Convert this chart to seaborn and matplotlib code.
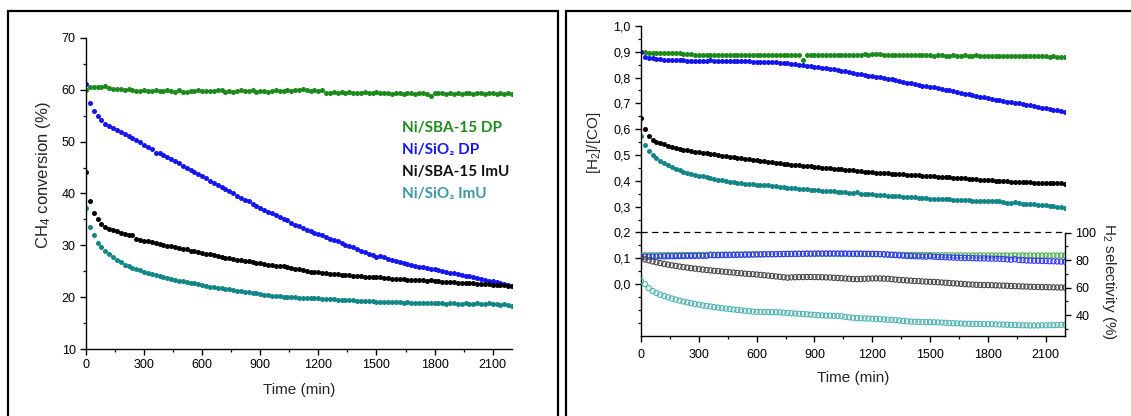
import numpy as np
import pandas as pd
import matplotlib
matplotlib.use("Agg")
import matplotlib.pyplot as plt
import seaborn as sns
from matplotlib.ticker import MultipleLocator, FixedLocator, FuncFormatter
from matplotlib.patches import Rectangle

# ---------------- data ----------------
time_min = np.arange(0, 2201, 20)  # sampling grid, 20 min

conv_sba_dp = [
    60.0, 60.5, 60.5, 60.6, 60.5, 60.8, 60.3, 60.2, 60.1, 60.1,
    60.0, 60.1, 60.0, 59.8, 59.7, 59.9, 59.8, 59.7, 59.9, 59.8,
    59.7, 59.9, 59.8, 59.6, 60.0, 59.5, 59.6, 59.8, 59.7, 59.9,
    59.8, 59.7, 59.8, 59.7, 59.9, 60.0, 59.6, 59.8, 59.5, 59.7,
    59.9, 59.7, 59.8, 59.9, 59.6, 59.8, 59.7, 59.6, 59.8, 59.9,
    59.8, 59.7, 59.9, 59.8, 59.9, 60.0, 60.2, 59.9, 59.8, 59.9,
    59.7, 59.9, 59.3, 59.4, 59.5, 59.4, 59.5, 59.4, 59.5, 59.3,
    59.4, 59.3, 59.5, 59.4, 59.3, 59.5, 59.4, 59.3, 59.4, 59.2,
    59.3, 59.4, 59.2, 59.3, 59.3, 59.2, 59.3, 59.4, 59.2, 58.9,
    59.4, 59.3, 59.3, 59.2, 59.4, 59.2, 59.3, 59.1, 59.3, 59.4,
    59.2, 59.3, 59.4, 59.2, 59.3, 59.4, 59.2, 59.3, 59.2, 59.3,
    59.2]
conv_sio2_dp = [
    61.2, 57.5, 56.0, 55.0, 54.2, 53.5, 53.1, 52.6, 52.3, 51.9,
    51.5, 51.1, 50.7, 50.3, 49.9, 49.4, 49.0, 48.6, 47.8, 47.8,
    47.5, 47.0, 46.6, 46.2, 45.8, 45.3, 44.9, 44.5, 44.1, 43.7,
    43.3, 42.9, 42.5, 42.1, 41.7, 41.2, 40.8, 40.4, 40.0, 39.6,
    39.2, 38.8, 38.5, 38.0, 37.6, 37.2, 36.9, 36.5, 36.2, 35.8,
    35.5, 35.1, 34.8, 34.4, 34.0, 33.7, 33.4, 33.0, 32.7, 32.4,
    32.2, 31.9, 31.6, 31.3, 31.0, 30.8, 30.4, 30.1, 29.8, 29.6,
    29.3, 29.0, 28.7, 28.4, 28.1, 27.8, 28.0, 27.7, 27.4, 27.2,
    26.9, 26.8, 26.6, 26.4, 26.3, 26.1, 25.9, 25.8, 25.6, 25.5,
    25.4, 25.2, 25.0, 24.9, 24.7, 24.6, 24.4, 24.3, 24.1, 24.0,
    23.9, 23.7, 23.6, 23.4, 23.2, 23.1, 22.9, 22.7, 22.5, 22.4,
    22.2]
conv_sba_imu = [
    44.1, 38.5, 36.2, 35.0, 34.1, 33.6, 33.2, 32.9, 32.7, 32.4,
    32.2, 32.0, 31.9, 31.2, 31.1, 30.9, 30.8, 30.6, 30.5, 30.3,
    30.1, 29.9, 29.8, 29.6, 29.5, 29.3, 29.2, 29.0, 28.9, 28.7,
    28.5, 28.4, 28.3, 28.1, 27.9, 27.8, 27.6, 27.5, 27.4, 27.2,
    27.1, 27.0, 26.9, 26.8, 26.6, 26.5, 26.4, 26.3, 26.2, 26.1,
    26.0, 26.0, 25.8, 25.6, 25.5, 25.5, 25.2, 25.0, 24.9, 24.9,
    24.8, 24.7, 24.6, 24.5, 24.4, 24.4, 24.3, 24.3, 24.2, 24.1,
    24.0, 24.0, 23.9, 23.9, 23.8, 23.8, 23.8, 23.7, 23.7, 23.6,
    23.6, 23.5, 23.5, 23.4, 23.4, 23.4, 23.3, 23.3, 23.2, 23.3,
    23.2, 23.1, 23.0, 23.0, 22.9, 22.9, 22.8, 22.8, 22.7, 22.7,
    22.7, 22.6, 22.6, 22.5, 22.5, 22.4, 22.4, 22.3, 22.3, 22.2,
    22.2]
conv_sio2_imu = [
    37.2, 33.5, 32.0, 30.5, 29.6, 28.9, 28.3, 27.7, 27.2, 26.7,
    26.3, 26.0, 25.7, 25.4, 25.2, 24.9, 24.7, 24.5, 24.2, 24.0,
    23.9, 23.7, 23.5, 23.4, 23.2, 23.1, 22.9, 22.8, 22.7, 22.6,
    22.4, 22.2, 22.0, 21.9, 21.8, 21.7, 21.6, 21.5, 21.3, 21.2,
    21.1, 21.0, 21.0, 20.9, 20.8, 20.6, 20.5, 20.4, 20.3, 20.3,
    20.2, 20.1, 20.1, 20.0, 20.0, 19.9, 19.9, 19.9, 19.8, 19.8,
    19.8, 19.7, 19.7, 19.6, 19.6, 19.5, 19.5, 19.4, 19.4, 19.4,
    19.3, 19.3, 19.2, 19.2, 19.2, 19.1, 19.1, 19.0, 19.1, 19.0,
    19.0, 19.0, 18.9, 19.0, 18.9, 18.9, 18.9, 18.8, 18.9, 18.8,
    18.8, 18.8, 18.8, 18.7, 18.8, 18.8, 18.7, 18.7, 18.8, 18.7,
    18.7, 18.8, 18.7, 18.7, 18.8, 18.7, 18.6, 18.5, 18.6, 18.5,
    18.3]

ratio_sba_dp = [
    0.900, 0.898, 0.897, 0.897, 0.896, 0.896, 0.895, 0.895, 0.894, 0.894,
    0.894, 0.893, 0.893, 0.890, 0.889, 0.888, 0.889, 0.887, 0.887, 0.888,
    0.887, 0.888, 0.887, 0.888, 0.887, 0.888, 0.888, 0.887, 0.888, 0.887,
    0.888, 0.887, 0.888, 0.889, 0.888, 0.889, 0.888, 0.889, 0.888, 0.888,
    0.887, 0.888, 0.870, 0.886, 0.888, 0.887, 0.886, 0.887, 0.886, 0.887,
    0.886, 0.887, 0.886, 0.887, 0.886, 0.888, 0.889, 0.888, 0.890, 0.889,
    0.890, 0.890, 0.891, 0.889, 0.889, 0.888, 0.888, 0.887, 0.887, 0.887,
    0.887, 0.886, 0.887, 0.887, 0.886, 0.886, 0.885, 0.886, 0.886, 0.885,
    0.885, 0.886, 0.885, 0.885, 0.886, 0.885, 0.885, 0.886, 0.885, 0.885,
    0.884, 0.884, 0.885, 0.884, 0.883, 0.884, 0.883, 0.884, 0.883, 0.883,
    0.882, 0.883, 0.882, 0.882, 0.883, 0.882, 0.881, 0.882, 0.881, 0.881,
    0.881]
ratio_sio2_dp = [
    0.900, 0.880, 0.877, 0.875, 0.873, 0.872, 0.870, 0.869, 0.868, 0.868,
    0.867, 0.867, 0.866, 0.866, 0.865, 0.865, 0.866, 0.865, 0.867, 0.866,
    0.865, 0.866, 0.865, 0.865, 0.864, 0.864, 0.864, 0.863, 0.863, 0.862,
    0.862, 0.862, 0.861, 0.860, 0.860, 0.859, 0.858, 0.857, 0.856, 0.854,
    0.852, 0.850, 0.848, 0.846, 0.844, 0.842, 0.840, 0.838, 0.836, 0.834,
    0.832, 0.830, 0.827, 0.824, 0.821, 0.818, 0.815, 0.813, 0.810, 0.807,
    0.805, 0.803, 0.801, 0.799, 0.796, 0.793, 0.790, 0.787, 0.784, 0.781,
    0.778, 0.775, 0.772, 0.769, 0.766, 0.764, 0.762, 0.758, 0.755, 0.752,
    0.750, 0.747, 0.744, 0.741, 0.738, 0.735, 0.732, 0.729, 0.726, 0.723,
    0.720, 0.717, 0.714, 0.712, 0.709, 0.707, 0.705, 0.702, 0.700, 0.697,
    0.695, 0.692, 0.690, 0.687, 0.684, 0.682, 0.679, 0.676, 0.673, 0.670,
    0.668]
ratio_sba_imu = [
    0.645, 0.600, 0.575, 0.560, 0.552, 0.546, 0.541, 0.536, 0.532, 0.528,
    0.524, 0.521, 0.518, 0.515, 0.513, 0.510, 0.508, 0.506, 0.504, 0.502,
    0.500, 0.498, 0.496, 0.494, 0.492, 0.490, 0.488, 0.486, 0.484, 0.482,
    0.480, 0.478, 0.476, 0.474, 0.472, 0.470, 0.468, 0.467, 0.465, 0.463,
    0.462, 0.460, 0.459, 0.457, 0.456, 0.454, 0.453, 0.451, 0.450, 0.448,
    0.447, 0.446, 0.444, 0.443, 0.441, 0.440, 0.438, 0.437, 0.435, 0.434,
    0.433, 0.432, 0.431, 0.430, 0.429, 0.428, 0.427, 0.426, 0.425, 0.424,
    0.423, 0.422, 0.421, 0.420, 0.419, 0.418, 0.417, 0.416, 0.415, 0.414,
    0.413, 0.412, 0.411, 0.410, 0.409, 0.408, 0.407, 0.406, 0.405, 0.404,
    0.403, 0.402, 0.401, 0.400, 0.399, 0.398, 0.397, 0.396, 0.396, 0.395,
    0.394, 0.394, 0.393, 0.393, 0.392, 0.392, 0.391, 0.391, 0.390, 0.390,
    0.389]
ratio_sio2_imu = [
    0.575, 0.540, 0.515, 0.500, 0.487, 0.477, 0.468, 0.460, 0.453, 0.447,
    0.441, 0.436, 0.432, 0.428, 0.424, 0.420, 0.417, 0.414, 0.411, 0.408,
    0.405, 0.402, 0.399, 0.397, 0.395, 0.393, 0.391, 0.389, 0.387, 0.386,
    0.385, 0.384, 0.383, 0.382, 0.380, 0.379, 0.377, 0.376, 0.374, 0.372,
    0.371, 0.370, 0.369, 0.367, 0.366, 0.364, 0.363, 0.362, 0.361, 0.360,
    0.359, 0.358, 0.357, 0.356, 0.354, 0.352, 0.355, 0.350, 0.349, 0.348,
    0.347, 0.346, 0.345, 0.344, 0.343, 0.342, 0.341, 0.340, 0.339, 0.338,
    0.337, 0.336, 0.335, 0.334, 0.333, 0.331, 0.330, 0.330, 0.329, 0.328,
    0.328, 0.327, 0.326, 0.325, 0.324, 0.324, 0.323, 0.323, 0.322, 0.323,
    0.322, 0.323, 0.321, 0.320, 0.318, 0.315, 0.313, 0.316, 0.314, 0.312,
    0.310, 0.309, 0.311, 0.307, 0.305, 0.306, 0.303, 0.301, 0.299, 0.297,
    0.295]

sel_sba_dp = [
    83.5, 83.6, 83.5, 83.6, 83.5, 83.6, 83.6, 83.7, 83.6, 83.7,
    83.7, 83.8, 83.7, 83.8, 83.8, 83.9, 83.8, 83.9, 84.0, 83.9,
    84.0, 84.0, 84.1, 84.0, 84.1, 84.2, 84.1, 84.2, 84.2, 84.3,
    84.3, 84.3, 84.4, 84.4, 84.5, 84.4, 84.5, 84.5, 84.6, 84.5,
    84.6, 84.6, 84.5, 84.6, 84.6, 84.5, 84.6, 84.5, 84.5, 84.6,
    84.5, 84.5, 84.4, 84.5, 84.4, 84.4, 84.3, 84.4, 84.3, 84.3,
    84.2, 84.3, 84.2, 84.1, 84.1, 84.0, 84.0, 83.9, 83.9, 83.8,
    83.8, 83.8, 83.7, 83.7, 83.6, 83.6, 83.6, 83.5, 83.5, 83.5,
    83.5, 83.4, 83.4, 83.4, 83.4, 83.3, 83.4, 83.3, 83.4, 83.3,
    83.4, 83.3, 83.4, 83.3, 83.3, 83.4, 83.3, 83.4, 83.3, 83.4,
    83.3, 83.4, 83.3, 83.4, 83.3, 83.4, 83.3, 83.4, 83.3, 83.4,
    83.4]
sel_sio2_dp = [
    82.4, 82.5, 82.5, 82.6, 82.6, 82.7, 82.7, 82.8, 82.8, 82.8,
    82.9, 82.9, 83.0, 83.0, 83.0, 83.1, 83.1, 83.1, 83.6, 83.5,
    83.5, 83.6, 83.6, 83.7, 83.7, 83.8, 83.8, 83.9, 83.9, 84.0,
    84.0, 84.1, 84.1, 84.2, 84.2, 84.3, 84.3, 84.4, 84.4, 84.5,
    84.5, 84.6, 84.6, 84.7, 84.7, 84.8, 84.8, 84.8, 84.8, 84.8,
    84.8, 84.8, 84.8, 84.8, 84.7, 84.7, 84.7, 84.7, 84.6, 84.6,
    84.6, 84.5, 84.4, 84.2, 84.0, 83.8, 83.6, 83.4, 83.2, 83.0,
    82.9, 82.8, 82.7, 82.6, 82.5, 82.8, 82.4, 82.2, 82.1, 82.0,
    81.9, 81.8, 81.7, 81.6, 81.5, 81.5, 81.4, 81.3, 81.2, 81.2,
    81.1, 81.0, 81.0, 80.9, 80.8, 80.5, 80.3, 80.6, 80.1, 79.9,
    79.7, 79.6, 79.5, 79.5, 79.4, 79.3, 79.2, 79.1, 79.0, 78.9,
    78.8]
sel_sba_imu = [
    81.2, 80.5, 79.8, 79.0, 78.4, 77.8, 77.2, 76.7, 76.2, 75.8,
    75.3, 74.9, 74.5, 74.1, 73.8, 73.4, 73.1, 72.8, 72.5, 72.2,
    72.0, 71.7, 71.4, 71.1, 70.9, 70.6, 70.4, 70.1, 69.9, 69.7,
    69.5, 69.2, 69.0, 68.7, 68.4, 68.1, 67.8, 67.5, 67.2, 67.4,
    67.5, 67.6, 67.6, 67.7, 67.7, 67.6, 67.6, 67.5, 67.4, 67.3,
    67.1, 67.0, 66.8, 66.6, 66.4, 66.2, 66.1, 66.2, 66.4, 66.5,
    66.6, 66.7, 66.6, 66.5, 66.4, 66.1, 65.8, 65.6, 65.4, 65.2,
    65.0, 64.8, 64.7, 64.5, 64.3, 64.2, 64.1, 63.9, 63.7, 63.5,
    63.3, 63.1, 62.9, 62.7, 62.5, 62.3, 62.2, 62.0, 61.9, 61.8,
    61.8, 61.7, 61.6, 61.5, 61.4, 61.3, 61.1, 61.0, 60.9, 60.8,
    60.7, 60.6, 60.5, 60.4, 60.3, 60.3, 60.2, 60.1, 60.1, 60.0,
    60.0]
sel_sio2_imu = [
    64.6, 62.5, 59.5, 57.5, 56.0, 54.8, 53.8, 52.9, 52.0, 51.2,
    50.5, 49.8, 49.2, 48.6, 48.0, 47.5, 47.0, 46.6, 46.2, 45.8,
    45.4, 45.0, 44.7, 44.3, 44.0, 43.7, 43.4, 43.1, 42.8, 42.5,
    42.3, 42.3, 42.2, 42.2, 42.1, 42.0, 41.9, 41.7, 41.5, 41.3,
    41.1, 40.9, 40.7, 40.5, 40.3, 40.1, 39.9, 39.7, 39.6, 39.5,
    39.4, 39.3, 39.1, 38.6, 38.3, 38.0, 37.8, 37.6, 37.5, 37.4,
    37.3, 37.2, 37.0, 36.8, 36.6, 36.5, 36.3, 36.0, 35.7, 35.4,
    35.2, 35.1, 35.0, 34.9, 34.8, 34.8, 34.7, 34.6, 34.5, 34.3,
    34.2, 34.0, 33.9, 33.8, 33.7, 33.6, 33.5, 33.5, 33.4, 33.4,
    33.3, 33.3, 33.2, 33.1, 33.0, 32.9, 32.8, 32.7, 32.6, 32.5,
    32.5, 32.4, 32.4, 32.4, 32.5, 32.5, 32.6, 32.6, 32.7, 32.8,
    32.9]

sample_names = ["Ni/SBA-15 DP", "Ni/SiO\u2082 DP", "Ni/SBA-15 ImU", "Ni/SiO\u2082 ImU"]
x_ticks = [0, 300, 600, 900, 1200, 1500, 1800, 2100]

# ---------------- style ----------------
sns.set_theme(style="ticks")
plt.rcParams['font.family'] = ['Liberation Sans', 'DejaVu Sans']
plt.rcParams['mathtext.fontset'] = 'custom'
plt.rcParams['mathtext.rm'] = 'Liberation Sans'
plt.rcParams['mathtext.it'] = 'Liberation Sans:italic'
plt.rcParams['mathtext.bf'] = 'Liberation Sans:bold'

fill_cols = ["#1b8a1b", "#1515f0", "#000000", "#128686"]
open_cols = ["#4caf4c", "#3434ff", "#454545", "#4fb3b3"]
text_cols = ["#1f8a1f", "#1818ee", "#111111", "#3c9a9a"]

W, H = 1131, 416
fig = plt.figure(figsize=(W / 100, H / 100), dpi=100)

# panel frames
fig.add_artist(Rectangle((8 / W, -0.05), 550 / W, 1.05 - 11 / H, transform=fig.transFigure,
                         fill=False, ec="black", lw=1.6))
fig.add_artist(Rectangle((566 / W, -0.05), 600 / W, 1.05 - 11 / H, transform=fig.transFigure,
                         fill=False, ec="black", lw=1.6))

tick_fs = 9
lab_fs = 11


def style_axis(ax):
    for sp in ["top", "right"]:
        ax.spines[sp].set_visible(False)
    for sp in ["left", "bottom"]:
        ax.spines[sp].set_linewidth(1.0)
        ax.spines[sp].set_color("black")
    ax.tick_params(which="major", direction="out", length=4.5, width=1.0, labelsize=tick_fs,
                   colors="black", pad=3)
    ax.tick_params(which="minor", direction="out", length=2.5, width=0.9, colors="black")
    ax.xaxis.set_major_locator(FixedLocator(x_ticks))
    ax.xaxis.set_minor_locator(MultipleLocator(150))
    ax.set_xlim(0, 2200)
    ax.set_facecolor("none")


# ---------------- left panel ----------------
axL = fig.add_axes([86 / W, (H - 349) / H, 426 / W, 311 / H])
conv = [conv_sba_dp, conv_sio2_dp, conv_sba_imu, conv_sio2_imu]
for vals, c in zip(conv, fill_cols):
    sns.scatterplot(x=time_min, y=vals, ax=axL, color=c, s=13, linewidth=0, legend=False)
style_axis(axL)
axL.set_ylim(10, 70)
axL.yaxis.set_major_locator(MultipleLocator(10))
axL.yaxis.set_minor_locator(MultipleLocator(5))
axL.set_xlabel("Time (min)", fontsize=lab_fs, labelpad=8)
axL.set_ylabel("CH$_4$ conversion (%)", fontsize=12)
axL.yaxis.set_label_coords(-0.078, 0.56)

for i, (name, c) in enumerate(zip(sample_names, text_cols)):
    fig.text(402 / W, 1 - (128 + 22 * i) / H, name, color=c, fontsize=11, fontweight="bold",
             family=["Lato", "DejaVu Sans"], ha="left", va="center")

# ---------------- right panel ----------------
axR = fig.add_axes([641 / W, (H - 335.6) / H, 424 / W, 309.6 / H])
ratio = [ratio_sba_dp, ratio_sio2_dp, ratio_sba_imu, ratio_sio2_imu]
for vals, c in zip(ratio, fill_cols):
    sns.scatterplot(x=time_min, y=vals, ax=axR, color=c, s=13, linewidth=0, legend=False)
style_axis(axR)
axR.tick_params(axis="x", which="major", pad=5)
axR.set_ylim(-0.2, 1.0)
axR.yaxis.set_major_locator(FixedLocator([round(0.1 * k, 1) for k in range(11)]))
axR.yaxis.set_minor_locator(FixedLocator([-0.15, -0.1, -0.05] + [0.05 + 0.1 * k for k in range(10)]))
axR.yaxis.set_major_formatter(FuncFormatter(lambda v, p: f"{v:.1f}".replace(".", ",")))
axR.axhline(0.2, color="black", lw=0.9, ls=(0, (5, 3.5)))
axR.set_xlabel("Time (min)", fontsize=lab_fs, labelpad=7)
axR.set_ylabel("[H$_2$]/[CO]", fontsize=lab_fs)
axR.yaxis.set_label_coords(-0.09, 0.622)

ax2 = axR.twinx()
sel = [sel_sba_dp, sel_sio2_dp, sel_sba_imu, sel_sio2_imu]
for vals, c in zip(sel, open_cols):
    sns.scatterplot(x=time_min, y=vals, ax=ax2, s=14, facecolor="none", edgecolor=c,
                    linewidth=0.8, legend=False)
ax2.set_ylim(25, 250.5)
ax2.set_xlim(0, 2200)
for sp in ["top", "left", "bottom"]:
    ax2.spines[sp].set_visible(False)
ax2.spines["right"].set_bounds(25, 100)
ax2.spines["right"].set_linewidth(1.0)
ax2.spines["right"].set_color("black")
ax2.yaxis.set_major_locator(FixedLocator([40, 60, 80, 100]))
ax2.yaxis.set_minor_locator(FixedLocator([30, 50, 70, 90]))
ax2.tick_params(which="major", direction="out", length=4.5, width=1.0, labelsize=tick_fs,
                colors="black", pad=3)
ax2.tick_params(which="minor", direction="out", length=2.5, width=0.9, colors="black")
ax2.set_ylabel("H$_2$ selectivity (%)", fontsize=lab_fs, rotation=-90)
ax2.yaxis.set_label_coords(1.125, 0.175)

fig.savefig("out.png", dpi=100)
